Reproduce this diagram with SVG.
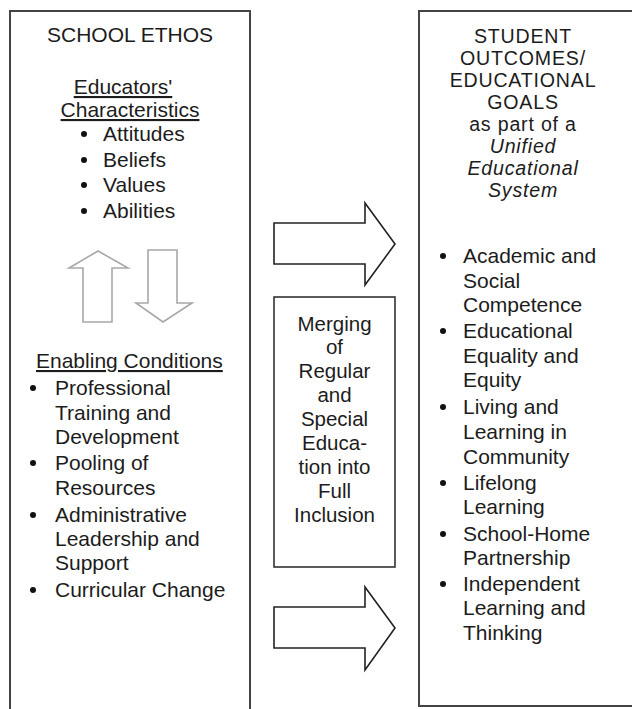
<svg xmlns="http://www.w3.org/2000/svg" width="632" height="709" viewBox="0 0 632 709">
<style>
.box{fill:#fff;stroke:#444;stroke-width:2}
.mid{fill:#fff;stroke:#333;stroke-width:1.6}
.big{fill:#fff;stroke:#222;stroke-width:1.6;stroke-linejoin:miter}
.small{fill:#fff;stroke:#a8a8a8;stroke-width:1.6}
text{font-family:"Liberation Sans",Arial,sans-serif;font-size:21px;fill:#1c1c1c}
.c{text-anchor:middle}
.u{text-decoration:underline}
.h{font-size:19.6px;letter-spacing:0.8px}
.i{font-style:italic}
.m{font-size:20.5px}
.dot{fill:#111}
</style>
<rect width="632" height="709" fill="#fff"/>
<g id="school-ethos">
<path class="box" d="M10,720 V11 H250 V720"/>
<text class="c" x="130" y="42">SCHOOL ETHOS</text>
<text class="c u" x="123" y="94">Educators'</text>
<text class="c u" x="130" y="117">Characteristics</text>
<circle class="dot" cx="84" cy="134" r="3"/><text x="103" y="141">Attitudes</text>
<circle class="dot" cx="84" cy="160" r="3"/><text x="103" y="167">Beliefs</text>
<circle class="dot" cx="84" cy="185" r="3"/><text x="103" y="192">Values</text>
<circle class="dot" cx="84" cy="211" r="3"/><text x="103" y="218">Abilities</text>
<text class="u" x="36" y="368">Enabling Conditions</text>
<circle class="dot" cx="33" cy="388" r="3"/><text x="55" y="395">Professional</text>
<text x="55" y="420">Training and</text>
<text x="55" y="444">Development</text>
<circle class="dot" cx="33" cy="463" r="3"/><text x="55" y="470">Pooling of</text>
<text x="55" y="495">Resources</text>
<circle class="dot" cx="33" cy="515" r="3"/><text x="55" y="522">Administrative</text>
<text x="55" y="546">Leadership and</text>
<text x="55" y="570">Support</text>
<circle class="dot" cx="33" cy="590" r="3"/><text x="55" y="597">Curricular Change</text>
</g>
<g id="merging">
<rect class="mid" x="274" y="297" width="121" height="270"/>
<text class="c m" x="334.5" y="331">Merging</text>
<text class="c m" x="334.5" y="354">of</text>
<text class="c m" x="334.5" y="378">Regular</text>
<text class="c m" x="334.5" y="402">and</text>
<text class="c m" x="334.5" y="426">Special</text>
<text class="c m" x="334.5" y="450">Educa-</text>
<text class="c m" x="334.5" y="474">tion into</text>
<text class="c m" x="334.5" y="498">Full</text>
<text class="c m" x="334.5" y="522">Inclusion</text>
</g>
<g id="student-outcomes">
<path class="box" d="M640,706 H419 V11 H640"/>
<text class="c h" x="523" y="43">STUDENT</text>
<text class="c h" x="523" y="65">OUTCOMES/</text>
<text class="c h" x="523" y="87">EDUCATIONAL</text>
<text class="c h" x="523" y="109">GOALS</text>
<text class="c h" x="523" y="131">as part of a</text>
<text class="c h i" x="523" y="153">Unified</text>
<text class="c h i" x="523" y="175">Educational</text>
<text class="c h i" x="523" y="197">System</text>
<circle class="dot" cx="443" cy="256" r="3"/><text x="463" y="263">Academic and</text>
<text x="463" y="288">Social</text>
<text x="463" y="312">Competence</text>
<circle class="dot" cx="443" cy="331" r="3"/><text x="463" y="338">Educational</text>
<text x="463" y="363">Equality and</text>
<text x="463" y="387">Equity</text>
<circle class="dot" cx="443" cy="407" r="3"/><text x="463" y="414">Living and</text>
<text x="463" y="439">Learning in</text>
<text x="463" y="464">Community</text>
<circle class="dot" cx="443" cy="483" r="3"/><text x="463" y="490">Lifelong</text>
<text x="463" y="514">Learning</text>
<circle class="dot" cx="443" cy="534" r="3"/><text x="463" y="541">School-Home</text>
<text x="463" y="565">Partnership</text>
<circle class="dot" cx="443" cy="584" r="3"/><text x="463" y="591">Independent</text>
<text x="463" y="615">Learning and</text>
<text x="463" y="640">Thinking</text>
</g>
<g id="connectors">
<path class="big" d="M274,223 H365 V203 L395,244 L365,285 V264 H274 Z"/>
<path class="big" d="M274,607 H365 V587 L395,628 L365,670 V648 H274 Z"/>
<path class="small" d="M98,251 L128,268 H112 V322 H83 V268 H69 Z"/>
<path class="small" d="M148,250 H177 V303 H192 L163,322 L136,303 H148 Z"/>
</g>
</svg>
